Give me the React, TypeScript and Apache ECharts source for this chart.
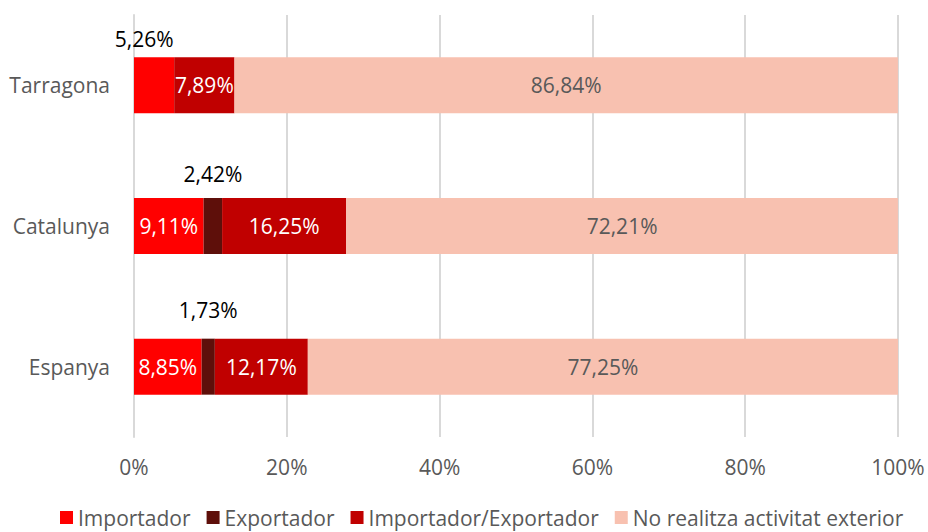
import React, { useEffect, useRef } from "react";
import * as echarts from "echarts";

const categories = ["Tarragona", "Catalunya", "Espanya"];
const seriesNames = ["Importador", "Exportador", "Importador/Exportador", "No realitza activitat exterior"];
const importador = [5.26, 9.11, 8.85];
const exportador = [0, 2.42, 1.73];
const impExp = [7.89, 16.25, 12.17];
const noRealitza = [86.84, 72.21, 77.25];
const xTicks = [0, 20, 40, 60, 80, 100];
const colors = ["#FF0000", "#5E0F0A", "#C00000", "#F8C1B0"];

const FONT = "'Open Sans', 'Noto Sans', sans-serif";
const FS = 21;
const fmt = (v: number) => v.toFixed(2).replace(".", ",") + "%";

export default function App() {
  const ref = useRef<HTMLDivElement>(null);
  useEffect(() => {
    if (!ref.current) return;
    const chart = echarts.init(ref.current, undefined, { renderer: "svg" });

    const insideLabel = {
      show: true,
      position: "inside",
      color: "#ffffff",
      fontSize: FS,
      fontFamily: FONT,
      formatter: (p: any) => (p.value > 0 ? fmt(p.value) : ""),
    };
    const topDistances = [8, 14, 18];
    const topOffsets = [[-10, 0], [0, 0], [0, 0]];

    const makeData = (vals: number[], topMask: boolean[]) =>
      vals.map((v, i) =>
        topMask[i]
          ? {
              value: v,
              label: {
                position: "top",
                color: "#000000",
                distance: topDistances[i],
                offset: topOffsets[i],
              },
            }
          : { value: v }
      );

    const all = [importador, exportador, impExp, noRealitza];
    const topMasks = [
      [true, false, false],
      [true, true, true],
      [false, false, false],
      [false, false, false],
    ];

    chart.setOption({
      animation: false,
      textStyle: { fontFamily: FONT },
      grid: { left: 134, right: 30, top: 15, bottom: 95, containLabel: false },
      legend: {
        top: 502,
        left: 55,
        itemWidth: 13,
        itemHeight: 13,
        itemGap: 16,
        icon: "rect",
        textStyle: { fontSize: FS, lineHeight: 21, color: "#595959", fontFamily: FONT },
        data: seriesNames,
      },
      xAxis: {
        type: "value",
        min: 0,
        max: 100,
        interval: 20,
        axisLabel: {
          formatter: (v: number) => (xTicks.includes(v) ? v + "%" : ""),
          fontSize: FS,
          color: "#595959",
          margin: 19,
          fontFamily: FONT,
        },
        axisLine: { show: false },
        axisTick: { show: false },
        splitLine: { lineStyle: { color: "#D9D9D9", width: 2 } },
      },
      yAxis: {
        type: "category",
        data: categories,
        inverse: true,
        axisLabel: { fontSize: FS, color: "#595959", margin: 24, fontFamily: FONT },
        axisLine: { show: true, lineStyle: { color: "#D9D9D9", width: 2 } },
        axisTick: { show: false },
      },
      series: seriesNames.map((name, si) => ({
        name,
        type: "bar",
        stack: "total",
        barWidth: 56,
        itemStyle: { color: colors[si] },
        label: { ...insideLabel, color: si === 3 ? "#595959" : "#ffffff" },
        data: makeData(all[si], topMasks[si]),
      })),
    });
    return () => chart.dispose();
  }, []);
  return <div ref={ref} style={{ width: 928, height: 532, position: "absolute", left: 0, top: 0 }} />;
}
